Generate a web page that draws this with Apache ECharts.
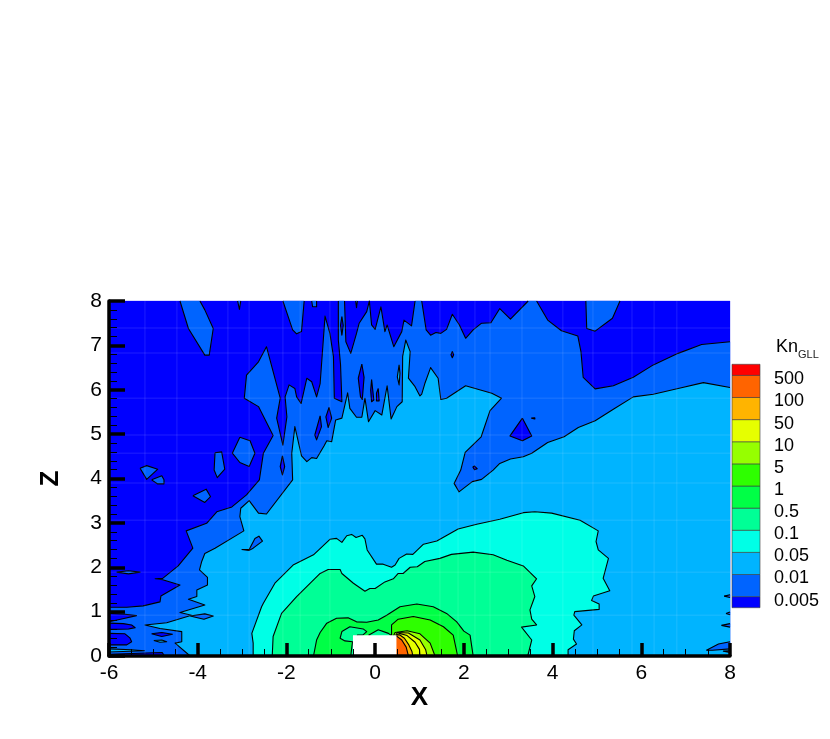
<!DOCTYPE html>
<html>
<head>
<meta charset="utf-8">
<title>Kn GLL</title>
<script src="https://cdn.jsdelivr.net/npm/echarts@6/dist/echarts.min.js"></script>
<style>
  html, body { margin: 0; padding: 0; background: #fff; }
  #chart { width: 830px; height: 739px; }
</style>
</head>
<body>
<div id="chart"></div>
<script>
// legend, bottom to top
const knLabels = ["0.005", "0.01", "0.05", "0.1", "0.5", "1", "5", "10", "50", "100", "500"];
const knColors = ["#0000ff", "#0064ff", "#00b4ff", "#00ffe6", "#00ff96", "#00ff46", "#2eff00", "#96ff00", "#e6ff00", "#ffb400", "#ff6400", "#ff0000"];
const knEdges = [0, 0.5, 1.5, 2.5, 3.5, 4.5, 5.5, 6.5, 7.5, 8.5, 9.5, 10.5, 11];

// faint mesh lines of the solution grid
const meshX = [-5.19, -4.47, -3.32, -2.84, -2.08, -1.69, -1.02, 1.46, 1.87, 2.25, 2.59, 3.31, 4.23, 4.91, 5.79, 6.29, 6.8];
const meshZ = [7.39, 6.83, 5.81, 4.98, 4.57, 3.9, 3.06, 1.89, 0.92];

// contour outlines as [x, z]
const level0Base = [[-6,0],[-6,8],[8,8],[8,0]];
const level1Main = [[8,7.08],[7.36,7.02],[6.83,6.82],[6.27,6.56],[5.82,6.28],[5.37,6.09],[4.96,6.02],[4.69,6.28],[4.64,6.86],[4.57,7.21],[4.2,7.33],[3.89,7.57],[3.64,8],[3.45,8],[3.05,7.59],[2.81,7.83],[2.61,7.51],[2.4,7.5],[2.21,7.35],[2.04,7.16],[1.9,7.46],[1.74,7.7],[1.61,7.36],[1.48,7.27],[1.37,7.29],[1.25,7.23],[1.15,7.35],[1.05,8],[0.9,8],[0.82,7.44],[0.65,7.57],[0.6,7.31],[0.42,6.97],[0.27,7.46],[0.22,7.31],[0.13,7.87],[0,7.36],[-0.08,7.46],[-0.13,8],[-0.19,7.76],[-0.36,7.5],[-0.42,7.27],[-0.55,6.82],[-0.66,7.08],[-0.69,8],[-0.83,8],[-0.83,7.12],[-0.78,6.56],[-0.75,5.73],[-0.92,5.81],[-0.94,6.75],[-1.02,7.27],[-1.13,7.66],[-1.18,6.97],[-1.24,6.14],[-1.32,5.84],[-1.43,6.18],[-1.54,6.26],[-1.67,5.69],[-1.77,5.84],[-1.81,6.03],[-1.94,6.11],[-2.03,5.84],[-1.99,5.39],[-2.08,4.75],[-2.22,5.36],[-2.14,5.81],[-2.45,6.97],[-2.63,6.63],[-2.9,6.33],[-2.95,5.81],[-2.63,5.62],[-2.3,4.97],[-2.52,4.57],[-2.61,3.97],[-2.9,3.63],[-3.23,3.36],[-3.57,3.25],[-3.8,2.99],[-4.26,2.82],[-4.11,2.43],[-4.44,2.03],[-4.79,1.75],[-4.96,1.74],[-4.79,1.72],[-4.4,1.6],[-4.83,1.35],[-4.85,1.22],[-5.23,1.13],[-5.6,1.1],[-6,1.1],[-6,0],[8,0]];
const level1Islands = [
  [[-4.4,8],[-4.21,7.38],[-3.84,6.78],[-3.74,6.78],[-3.65,7.38],[-3.84,7.8],[-3.95,8]],
  [[-3.1,8],[-3.06,7.81],[-3.03,8]],
  [[-2.08,8],[-1.86,7.35],[-1.77,7.26],[-1.66,7.31],[-1.6,8]],
  [[-1.43,8],[-1.41,7.87],[-1.32,7.87],[-1.32,8]],
  [[-0.44,8],[-0.42,7.85],[-0.4,8]],
  [[-3.05,4.93],[-2.82,4.85],[-2.71,4.57],[-2.84,4.27],[-3.05,4.36],[-3.22,4.57]],
  [[-3.61,4.58],[-3.46,4.6],[-3.39,4.21],[-3.56,4.02],[-3.63,4.19]],
  [[-5.3,4.23],[-5.15,4.29],[-4.9,4.21],[-5.15,3.98]],
  [[-5.04,3.97],[-4.91,3.88],[-4.76,3.88],[-4.76,3.97],[-4.81,4.06]],
  [[-4.11,3.61],[-3.81,3.76],[-3.71,3.59],[-3.84,3.46]],
  [[-5.83,1.89],[-5.56,1.92],[-5.3,1.89],[-5.56,1.85]],
  [[4.75,8],[4.77,7.38],[4.96,7.32],[5.35,7.61],[5.52,8]]
];
const level0Islands = [
  [[-6,0.96],[-5.64,0.94],[-5.38,0.91],[-5.64,0.85],[-6,0.77]],
  [[-6,0.74],[-5.68,0.73],[-5.49,0.7],[-5.41,0.64],[-5.56,0.61],[-6,0.6]],
  [[-6,0.51],[-5.64,0.5],[-5.53,0.41],[-5.49,0.32],[-5.6,0.25],[-6,0.25]],
  [[-6,0.04],[-4.8,0.08],[-4.75,0],[-6,0]],
  [[-5.04,0.5],[-4.81,0.53],[-4.57,0.49],[-4.81,0.44]],
  [[-0.75,7.65],[-0.72,7.45],[-0.75,7.23],[-0.78,7.45]],
  [[-0.3,6.58],[-0.25,6.28],[-0.29,5.78],[-0.33,5.84],[-0.38,6.26]],
  [[-0.08,6.23],[-0.03,5.77],[-0.08,5.73],[-0.1,5.99]],
  [[0.07,6.03],[0.09,5.75],[0.03,5.75],[0.03,5.92]],
  [[-1.24,5.41],[-1.21,5.17],[-1.32,4.87],[-1.36,4.98]],
  [[-1.04,5.6],[-0.98,5.36],[-1.06,5.15],[-1.11,5.39]],
  [[-2.09,4.51],[-2.04,4.27],[-2.09,4.08],[-2.14,4.27]],
  [[1.74,6.86],[1.77,6.79],[1.74,6.72],[1.71,6.79]],
  [[3.32,5.36],[3.53,4.96],[3.32,4.85],[3.04,4.96]],
  [[3.52,5.36],[3.6,5.37],[3.6,5.34]],
  [[2.2,4.26],[2.24,4.28],[2.3,4.22],[2.24,4.2]]
];
const level2Main = [[8,6.05],[7.4,6.16],[6.83,6.03],[6.27,5.9],[5.82,5.84],[5.37,5.56],[4.96,5.3],[4.58,5.15],[4.26,4.94],[3.89,4.81],[3.53,4.57],[3.34,4.49],[3.05,4.44],[2.81,4.34],[2.66,4.19],[2.4,3.98],[2.19,3.93],[1.89,3.7],[1.78,3.89],[1.93,4.19],[2.03,4.59],[2.39,4.94],[2.59,5.53],[2.85,5.81],[2.63,5.92],[2.04,6.09],[1.61,5.81],[1.48,5.78],[1.42,6.26],[1.25,6.5],[1.12,6.14],[1.05,5.9],[1.01,5.86],[0.9,6.07],[0.75,6.26],[0.79,6.86],[0.69,7.12],[0.62,6.75],[0.61,5.73],[0.49,5.62],[0.36,5.34],[0.27,6.09],[0.15,5.43],[0,5.53],[-0.15,5.28],[-0.23,5.81],[-0.3,5.38],[-0.42,5.38],[-0.57,5.58],[-0.62,5.93],[-0.75,5.36],[-0.89,5.32],[-0.98,4.83],[-1.09,4.85],[-1.15,4.74],[-1.32,4.45],[-1.43,4.47],[-1.54,4.38],[-1.66,4.51],[-1.81,5.17],[-1.88,4.57],[-1.86,3.97],[-2.45,3.2],[-2.63,3.22],[-2.84,3.5],[-3.03,3.33],[-3.05,3.14],[-2.96,2.82],[-3.61,2.43],[-3.84,2.31],[-3.91,2.13],[-3.96,1.94],[-3.78,1.77],[-3.78,1.6],[-4.02,1.49],[-4.02,1.34],[-4.21,1.28],[-3.84,1.15],[-4.4,0.98],[-4.14,0.92],[-4.7,0.75],[-5.19,0.7],[-4.85,0.62],[-4.36,0.55],[-4.36,0.32],[-4.51,0.29],[-4.17,0],[8,0]];
const level2Islands = [
  [[0.54,6.56],[0.56,6.37],[0.54,6.11],[0.5,6.29]],
  [[-4.99,0.35],[-4.81,0.36],[-4.7,0.32],[-4.85,0.31]],
  [[-6,0.16],[-5.5,0.14],[-5.2,0.12],[-6,0.09]]
];
const level1Lenses = [
  [[-4.17,0.9],[-3.84,0.95],[-3.65,0.9],[-3.86,0.83]],
  [[-3.01,2.4],[-2.84,2.4],[-2.71,2.65],[-2.62,2.7],[-2.54,2.59],[-2.75,2.43],[-2.84,2.38]],
  [[7.47,0.13],[7.74,0.27],[8,0.32],[8,0.16],[7.6,0.13]],
  [[8,0.12],[7.85,0.11],[8,0.08]],
  [[7.87,1.35],[8,1.38],[8,1.32]],
  [[7.91,0.96],[8,0.99],[8,0.93]],
  [[7.81,0.69],[8,0.73],[8,0.65]]
];
const level3Main = [[-2.75,0],[-2.75,0.29],[-2.78,0.51],[-2.56,1.11],[-2.52,1.19],[-2.26,1.64],[-1.85,2.05],[-1.39,2.28],[-1.02,2.63],[-0.87,2.65],[-0.75,2.56],[-0.64,2.71],[-0.53,2.74],[-0.43,2.67],[-0.29,2.72],[-0.23,2.64],[-0.18,2.39],[0.03,2.07],[0.18,2.07],[0.37,2],[0.45,2.05],[0.54,2.2],[0.71,2.3],[0.85,2.29],[1.09,2.52],[1.39,2.59],[1.87,2.86],[2.29,2.97],[2.81,3.08],[3.34,3.23],[3.6,3.25],[3.98,3.22],[4.62,3.06],[5.03,2.82],[4.98,2.58],[5.03,2.39],[5.26,2.2],[5.14,1.75],[5.29,1.47],[4.92,1.35],[4.88,1.25],[5.05,1.17],[5.05,1.05],[4.5,1],[4.48,0.92],[4.66,0.7],[4.49,0.57],[4.47,0.38],[4.54,0.27],[4.35,0.14],[4.35,0]];
const level4Main = [[-2.32,0],[-2.3,0.44],[-2.11,0.96],[-1.77,1.34],[-1.24,1.86],[-1.06,1.95],[-0.79,1.95],[-0.75,1.86],[-0.49,1.64],[-0.23,1.46],[-0.12,1.52],[0,1.52],[0.22,1.67],[0.41,1.74],[0.52,1.86],[0.63,1.86],[0.79,2],[0.95,2.01],[1.12,2.13],[1.46,2.2],[1.72,2.29],[2.21,2.34],[2.66,2.28],[2.97,2.16],[3.34,2.03],[3.64,1.74],[3.53,1.58],[3.6,1.34],[3.49,1.04],[3.53,0.83],[3.64,0.7],[3.3,0.65],[3.53,0.36],[3.44,0]];
const level5Main = [[-1.39,0],[-1.32,0.36],[-1.24,0.53],[-1.09,0.74],[-0.87,0.85],[-0.61,0.86],[-0.42,0.77],[-0.19,0.76],[0.07,0.81],[0.26,0.92],[0.56,1.11],[0.94,1.17],[1.31,1.11],[1.61,0.96],[1.84,0.77],[2,0.56],[2.14,0.47],[2.21,0]];
const level4LobeLeft = [[-0.55,0],[-0.51,0.32],[-0.68,0.34],[-0.79,0.4],[-0.75,0.55],[-0.57,0.66],[-0.27,0.61],[-0.19,0.55],[-0.28,0.47],[-0.4,0.47],[-0.4,0]];
const level4LobeTop = [[-0.15,0.47],[0.07,0.59],[0.3,0.51],[0.37,0.46],[0.1,0.3]];
const level6Main = [[0.37,0.46],[0.37,0.7],[0.52,0.83],[0.86,0.89],[1.24,0.81],[1.54,0.66],[1.76,0.47],[1.86,0],[0.3,0],[0.3,0.3]];
const level7Main = [[0.42,0.47],[0.45,0.53],[0.72,0.57],[1.01,0.5],[1.24,0.29],[1.35,0],[0.3,0],[0.3,0.3]];
const level8Outer = [[0.47,0.47],[0.5,0.53],[0.75,0.52],[1.01,0.36],[1.14,0.14],[1.17,0],[0.3,0],[0.3,0.3]];
const level8Inner = [[0.47,0.47],[0.55,0.51],[0.72,0.46],[0.9,0.31],[1,0.15],[1.01,0],[0.3,0],[0.3,0.3]];
const level9Main = [[0.47,0.47],[0.55,0.48],[0.66,0.4],[0.76,0.25],[0.83,0.1],[0.85,0],[0.3,0],[0.3,0.3]];
const level10Main = [[0.47,0.46],[0.6,0.36],[0.7,0.2],[0.75,0],[0.3,0],[0.3,0.3]];
const block = [[-0.5,0],[-0.5,0.47],[0.48,0.47],[0.48,0]];

// paint order: low levels first, higher ones on top
let regions = [];
function addRegions(level, list) {
  list.forEach((pts) => regions.push({ level: level, pts: pts }));
}
addRegions(0, [level0Base]);
addRegions(1, [level1Main].concat(level1Islands));
addRegions(0, level0Islands);
addRegions(2, [level2Main].concat(level2Islands));
addRegions(1, level1Lenses);
addRegions(3, [level3Main]);
addRegions(4, [level4Main]);
addRegions(5, [level5Main]);
addRegions(4, [level4LobeLeft, level4LobeTop]);
addRegions(6, [level6Main]);
addRegions(7, [level7Main]);
addRegions(8, [level8Outer, level8Inner]);
addRegions(9, [level9Main]);
addRegions(10, [level10Main]);

function onFrame(a, b) {
  return (a[0] === b[0] && (a[0] === -6 || a[0] === 8)) || (a[1] === b[1] && (a[1] === 0 || a[1] === 8));
}

function renderRegion(params, api) {
  let r = regions[params.dataIndex];
  let children = [{
    type: "polygon",
    shape: { points: r.pts.map((p) => api.coord(p)) },
    style: { fill: knColors[r.level], stroke: knColors[r.level], lineWidth: 0.3 }
  }];
  // contour lines, but not along the plot frame
  let run = [];
  for (let i = 0; i <= r.pts.length; i++) {
    let p = r.pts[i % r.pts.length];
    let prev = i > 0 ? r.pts[i - 1] : null;
    if (prev && onFrame(prev, p)) {
      if (run.length > 1) children.push(contourLine(run));
      run = [];
    }
    run.push(api.coord(p));
  }
  if (run.length > 1) children.push(contourLine(run));
  return { type: "group", children: children };
}

function contourLine(points) {
  return {
    type: "polyline",
    shape: { points: points },
    style: { fill: null, stroke: "#000", lineWidth: 1.1, lineJoin: "round" }
  };
}

let meshLines = [];
meshX.forEach((x) => meshLines.push([[x, 0], [x, 8]]));
meshZ.forEach((z) => meshLines.push([[-6, z], [8, z]]));

function renderMesh(params, api) {
  let l = meshLines[params.dataIndex];
  return {
    type: "polyline",
    shape: { points: l.map((p) => api.coord(p)) },
    style: { fill: null, stroke: "rgba(255,255,255,0.08)", lineWidth: 1.5 }
  };
}

function renderBlock(params, api) {
  return {
    type: "polygon",
    shape: { points: block.map((p) => api.coord(p)) },
    style: { fill: "#fff" }
  };
}

function renderKey(params, api) {
  let i = params.dataIndex;
  let lo = api.coord([0, knEdges[i]]);
  let hi = api.coord([1, knEdges[i + 1]]);
  let children = [{
    type: "rect",
    shape: { x: lo[0], y: hi[1], width: hi[0] - lo[0], height: lo[1] - hi[1] },
    style: { fill: knColors[i], stroke: "rgba(60,60,60,0.6)", lineWidth: 1 }
  }];
  if (i < knLabels.length) {
    children.push({
      type: "text",
      x: hi[0] + 14,
      y: hi[1] + 4,
      style: { text: knLabels[i], fill: "#000", font: '18px "Liberation Sans"', verticalAlign: "middle", align: "left" }
    });
  }
  return { type: "group", children: children };
}

let chart = echarts.init(document.getElementById("chart"), null, { renderer: "canvas" });
chart.setOption({
  animation: false,
  backgroundColor: "#fff",
  grid: [
    { left: 109, top: 301, width: 621, height: 355 },
    { left: 732, top: 364.3, width: 28, height: 243.4 }
  ],
  xAxis: [
    {
      type: "value",
      min: -6,
      max: 8,
      interval: 2,
      z: 10,
      name: "X",
      nameLocation: "middle",
      nameGap: 28,
      nameTextStyle: { fontFamily: "Liberation Sans", fontWeight: "bold", fontSize: 26, color: "#000" },
      axisLine: { show: true, onZero: false, lineStyle: { color: "#000", width: 3.5 } },
      axisTick: { show: true, inside: true, length: 13, lineStyle: { color: "#000", width: 3.5 } },
      minorTick: { show: true, splitNumber: 4, length: 7, lineStyle: { color: "#000", width: 1 } },
      axisLabel: { color: "#000", fontFamily: "Liberation Sans", fontSize: 21, margin: 7 },
      splitLine: { show: false }
    },
    { type: "value", gridIndex: 1, min: 0, max: 1, show: false }
  ],
  yAxis: [
    {
      type: "value",
      min: 0,
      max: 8,
      interval: 1,
      z: 10,
      name: "Z",
      nameLocation: "middle",
      nameGap: 45,
      nameTextStyle: { fontFamily: "Liberation Sans", fontWeight: "bold", fontSize: 26, color: "#000" },
      axisLine: { show: true, onZero: false, lineStyle: { color: "#000", width: 3.5 } },
      axisTick: { show: true, inside: true, length: 16, lineStyle: { color: "#000", width: 3.5 } },
      minorTick: { show: true, splitNumber: 5, length: 8, lineStyle: { color: "#000", width: 1 } },
      axisLabel: { color: "#000", fontFamily: "Liberation Sans", fontSize: 21, margin: 7, padding: [4, 0, 0, 0] },
      splitLine: { show: false }
    },
    { type: "value", gridIndex: 1, min: 0, max: 11, show: false }
  ],
  graphic: [
    { type: "text", left: 776, top: 338, style: { text: "Kn", fill: "#000", font: '18px "Liberation Sans"' } },
    { type: "text", left: 798, top: 349, style: { text: "GLL", fill: "#222", font: '11px "Liberation Sans"' } }
  ],
  series: [
    {
      type: "custom",
      coordinateSystem: "cartesian2d",
      renderItem: renderRegion,
      silent: true,
      z: 2,
      data: regions.map((r, i) => [i])
    },
    {
      type: "custom",
      coordinateSystem: "cartesian2d",
      renderItem: renderMesh,
      silent: true,
      z: 3,
      data: meshLines.map((l, i) => [i])
    },
    {
      type: "custom",
      coordinateSystem: "cartesian2d",
      renderItem: renderBlock,
      silent: true,
      z: 4,
      data: [[0]]
    },
    {
      type: "custom",
      coordinateSystem: "cartesian2d",
      xAxisIndex: 1,
      yAxisIndex: 1,
      renderItem: renderKey,
      silent: true,
      data: knColors.map((c, i) => [i])
    }
  ]
});
</script>
</body>
</html>
